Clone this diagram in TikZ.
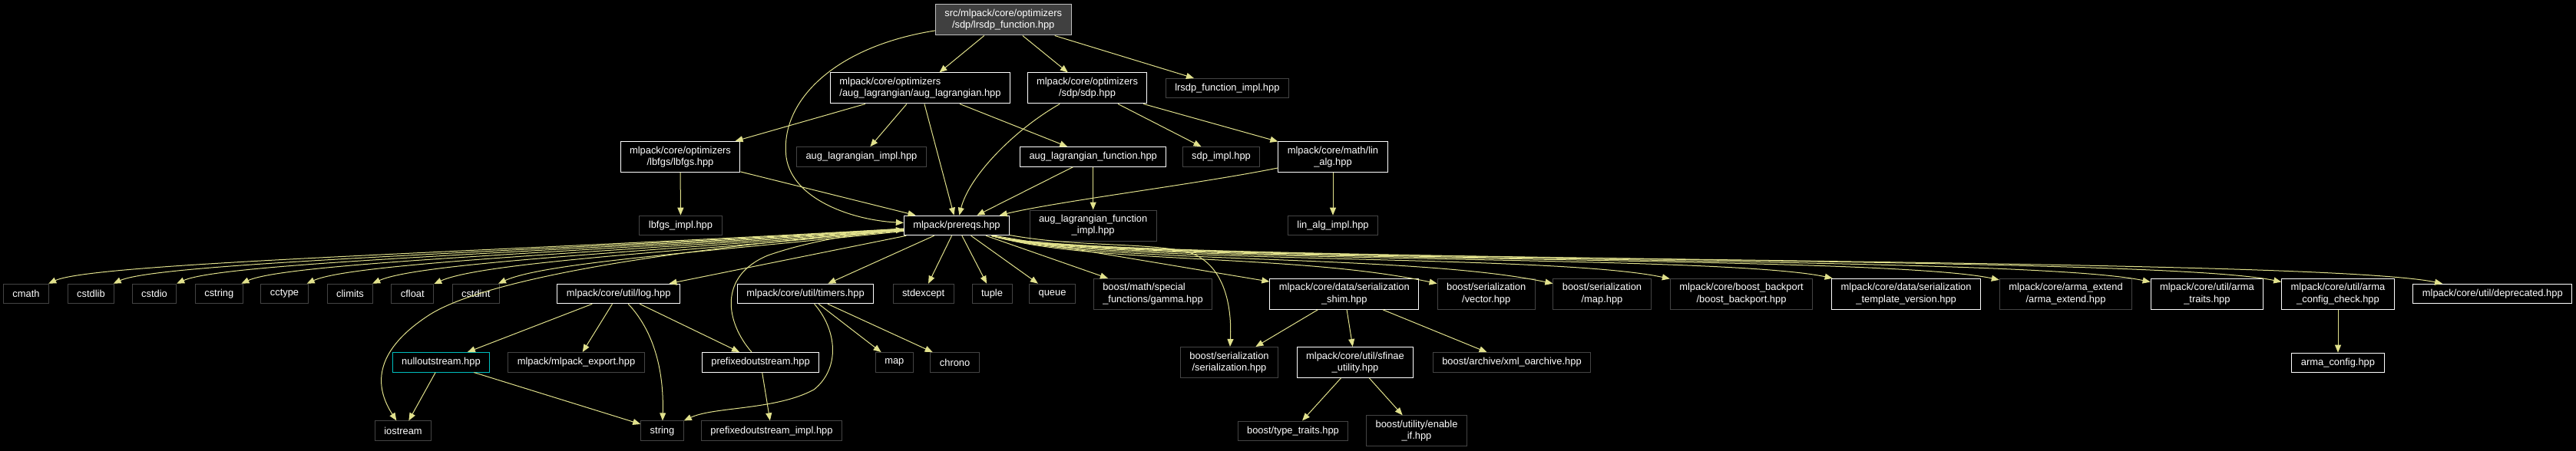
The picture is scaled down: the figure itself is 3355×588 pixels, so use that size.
\documentclass[tikz,border=0pt]{standalone}
\usepackage{fontspec}
\setmainfont{Liberation Sans}
\usepackage{xcolor}
\usepackage{tikz}
\usetikzlibrary{arrows.meta}

\definecolor{edgecol}{RGB}{225,225,140}
\definecolor{leafline}{RGB}{68,68,68}
\definecolor{rootfill}{RGB}{64,64,64}
\definecolor{rootline}{RGB}{190,190,190}
\definecolor{nullline}{RGB}{0,190,190}

\begin{document}
\begin{tikzpicture}[x=1pt, y=-1pt,
        box/.style={draw=white, rectangle, line width=1pt, text=white,
            font=\fontsize{12.9}{15.3}\selectfont, inner xsep=12pt, inner ysep=0pt,
            minimum height=25.6pt, align=center},
        leaf/.style={box, draw=leafline},
        tall/.style={minimum height=40pt},
        edge/.style={draw=edgecol, line width=1pt, -{Triangle[length=10pt, width=8pt]}}]
        % Background
        \fill[black] (0, 0) rectangle (3355, 588);

        % Top file
        \node[box, tall, fill=rootfill, draw=rootline] (root) at (1306.7, 26) {src/mlpack/core/optimizers\\/sdp/lrsdp\_function.hpp};

        % Optimizers
        \node[box, tall, align=left] (auglag) at (1198.5, 115) {mlpack/core/optimizers\\/aug\_lagrangian/aug\_lagrangian.hpp};
        \node[box, tall] (sdp) at (1416, 115) {mlpack/core/optimizers\\/sdp/sdp.hpp};
        \node[leaf] (lrsdpimpl) at (1598.4, 115.2) {lrsdp\_function\_impl.hpp};

        \node[box, tall] (lbfgs) at (886, 204.5) {mlpack/core/optimizers\\/lbfgs/lbfgs.hpp};
        \node[leaf] (auglagimpl) at (1122, 204.5) {aug\_lagrangian\_impl.hpp};
        \node[box] (auglagfunc) at (1423.7, 204.5) {aug\_lagrangian\_function.hpp};
        \node[leaf] (sdpimpl) at (1590.5, 204.5) {sdp\_impl.hpp};
        \node[box, tall] (linalg) at (1736, 204.5) {mlpack/core/math/lin\\\_alg.hpp};

        \node[leaf] (lbfgsimpl) at (886.5, 294) {lbfgs\_impl.hpp};
        \node[box] (prereqs) at (1246, 294) {mlpack/prereqs.hpp};
        \node[leaf, tall] (auglagfuncimpl) at (1423.7, 294) {aug\_lagrangian\_function\\\_impl.hpp};
        \node[leaf] (linalgimpl) at (1736, 294) {lin\_alg\_impl.hpp};

        % Prereqs includes
        \node[leaf] (cmath) at (34, 383) {cmath};
        \node[leaf] (cstdlib) at (118.5, 383) {cstdlib};
        \node[leaf] (cstdio) at (201, 383) {cstdio};
        \node[leaf] (cstring) at (285.3, 383) {cstring};
        \node[leaf] (cctype) at (370.5, 383) {cctype};
        \node[leaf] (climits) at (456, 383) {climits};
        \node[leaf] (cfloat) at (537.3, 383) {cfloat};
        \node[leaf] (cstdint) at (619.7, 383) {cstdint};
        \node[box] (log) at (805.7, 383) {mlpack/core/util/log.hpp};
        \node[box] (timers) at (1049, 383) {mlpack/core/util/timers.hpp};
        \node[leaf] (stdexcept) at (1202.6, 383) {stdexcept};
        \node[leaf] (tuple) at (1292, 383) {tuple};
        \node[leaf] (queue) at (1370.5, 383) {queue};
        \node[leaf, tall, align=left] (gamma) at (1501.5, 383.3) {boost/math/special\\\_functions/gamma.hpp};
        \node[box, tall] (shim) at (1750.8, 383.3) {mlpack/core/data/serialization\\\_shim.hpp};
        \node[leaf, tall] (vector) at (1935.7, 383.3) {boost/serialization\\/vector.hpp};
        \node[leaf, tall] (bmap) at (2086.5, 383.3) {boost/serialization\\/map.hpp};
        \node[leaf, tall] (backport) at (2268, 383.3) {mlpack/core/boost\_backport\\/boost\_backport.hpp};
        \node[box, tall] (tmplver) at (2482.6, 383.3) {mlpack/core/data/serialization\\\_template\_version.hpp};
        \node[leaf, tall] (armaext) at (2690.5, 383.3) {mlpack/core/arma\_extend\\/arma\_extend.hpp};
        \node[box, tall] (armatraits) at (2874.4, 383.3) {mlpack/core/util/arma\\\_traits.hpp};
        \node[box, tall] (armacfgchk) at (3045, 383.3) {mlpack/core/util/arma\\\_config\_check.hpp};
        \node[box] (deprecated) at (3246.3, 383) {mlpack/core/util/deprecated.hpp};

        % Util and boost
        \node[box, draw=nullline] (nullout) at (574.5, 472.3) {nulloutstream.hpp};
        \node[leaf] (mlpackexport) at (750.5, 472.3) {mlpack/mlpack\_export.hpp};
        \node[box] (prefixed) at (990.5, 472.3) {prefixedoutstream.hpp};
        \node[leaf] (map) at (1164.8, 472.4) {map};
        \node[leaf] (chrono) at (1243.6, 472.4) {chrono};
        \node[leaf, tall] (serialization) at (1601, 472.5) {boost/serialization\\/serialization.hpp};
        \node[box, tall] (sfinae) at (1765, 472.5) {mlpack/core/util/sfinae\\\_utility.hpp};
        \node[leaf] (xmloarchive) at (1969, 472.5) {boost/archive/xml\_oarchive.hpp};
        \node[box] (armacfg) at (3045, 473) {arma\_config.hpp};

        \node[leaf] (iostream) at (525, 561.7) {iostream};
        \node[leaf] (string) at (862.5, 561.7) {string};
        \node[leaf] (prefixedimpl) at (1005, 561.7) {prefixedoutstream\_impl.hpp};
        \node[leaf] (typetraits) at (1684, 561.8) {boost/type\_traits.hpp};
        \node[leaf, tall] (enableif) at (1845, 561.8) {boost/utility/enable\\\_if.hpp};

        % Connections from the top file
        \draw[edge] (root) -- (auglag);
        \draw[edge] (root) -- (sdp);
        \draw[edge] (root) -- (lrsdpimpl);
        \draw[edge] (root) .. controls (1090, 60) and (1015, 130) .. (1024, 205) .. controls (1032, 260) and (1110, 287) .. (prereqs);

        \draw[edge] (auglag) -- (lbfgs);
        \draw[edge] (auglag) -- (auglagimpl);
        \draw[edge] (auglag) -- (prereqs);
        \draw[edge] (auglag) -- (auglagfunc);

        \draw[edge] (sdp) .. controls (1320, 170) and (1262, 230) .. (prereqs);
        \draw[edge] (sdp) -- (sdpimpl);
        \draw[edge] (sdp) -- (linalg);

        \draw[edge] (lbfgs) -- (lbfgsimpl);
        \draw[edge] (lbfgs) -- (prereqs);
        \draw[edge] (auglagfunc) -- (prereqs);
        \draw[edge] (auglagfunc) -- (auglagfuncimpl);
        \draw[edge] (linalg) .. controls (1560, 240) and (1380, 262) .. (prereqs);
        \draw[edge] (linalg) -- (linalgimpl);

        % Connections from prereqs
        \draw[edge] (prereqs) .. controls (663, 328) and (124, 342) .. (cmath);
        \draw[edge] (prereqs) .. controls (701, 328) and (208.5, 342) .. (cstdlib);
        \draw[edge] (prereqs) .. controls (738, 328) and (291, 342) .. (cstdio);
        \draw[edge] (prereqs) .. controls (776, 328) and (375, 342) .. (cstring);
        \draw[edge] (prereqs) .. controls (815, 328) and (460.5, 342) .. (cctype);
        \draw[edge] (prereqs) .. controls (853, 328) and (546, 342) .. (climits);
        \draw[edge] (prereqs) .. controls (890, 328) and (627, 342) .. (cfloat);
        \draw[edge] (prereqs) .. controls (927, 328) and (710, 342) .. (cstdint);
        \draw[edge] (prereqs) .. controls (900, 322) and (640, 360) .. (560, 410) .. controls (490, 455) and (485, 500) .. (iostream);
        \draw[edge] (prereqs) -- (log);
        \draw[edge] (prereqs) -- (timers);
        \draw[edge] (prereqs) -- (stdexcept);
        \draw[edge] (prereqs) -- (tuple);
        \draw[edge] (prereqs) -- (queue);
        \draw[edge] (prereqs) -- (gamma);
        \draw[edge] ([xshift=-20pt]prereqs.south east) -- (shim);
        \draw[edge] (prereqs) .. controls (1400, 322) and (1490, 316) .. (1545, 328) .. controls (1590, 340) and (1605, 390) .. (serialization);
        \draw[edge] (prereqs) .. controls (1420, 345) and (1686, 330) .. (vector);
        \draw[edge] (prereqs) .. controls (1420, 345) and (1836, 330) .. (bmap);
        \draw[edge] (prereqs) .. controls (1420, 345) and (2018, 330) .. (backport);
        \draw[edge] (prereqs) .. controls (1420, 345) and (2233, 330) .. (tmplver);
        \draw[edge] (prereqs) .. controls (1420, 345) and (2440, 330) .. (armaext);
        \draw[edge] (prereqs) .. controls (1420, 345) and (2624, 330) .. (armatraits);
        \draw[edge] (prereqs) .. controls (1420, 345) and (2795, 330) .. (armacfgchk);
        \draw[edge] (prereqs) .. controls (1420, 345) and (2996, 332) .. (deprecated);

        % Util connections
        \draw[edge] (log) -- (nullout);
        \draw[edge] (log) -- (mlpackexport);
        \draw[edge] (log) .. controls (850, 430) and (865, 480) .. (string);
        \draw[edge] (log) -- (prefixed);

        \draw[edge] (timers) -- (map);
        \draw[edge] (timers) -- (chrono);
        \draw[edge] (timers) .. controls (1090, 430) and (1095, 480) .. (1060, 508) .. controls (1010, 535) and (930, 530) .. (string);

        \draw[edge] (prefixed) .. controls (945, 420) and (935, 360) .. (1000, 333) .. controls (1060, 312) and (1130, 303) .. (prereqs);
        \draw[edge] (prefixed) -- (prefixedimpl);

        \draw[edge] (nullout) -- (iostream);
        \draw[edge] (nullout) -- (string);

        % Serialization connections
        \draw[edge] (shim) -- (serialization);
        \draw[edge] (shim) -- (sfinae);
        \draw[edge] (shim) -- (xmloarchive);
        \draw[edge] (sfinae) -- (typetraits);
        \draw[edge] (sfinae) -- (enableif);
        \draw[edge] (armacfgchk) -- (armacfg);
    \end{tikzpicture}
\end{document}
